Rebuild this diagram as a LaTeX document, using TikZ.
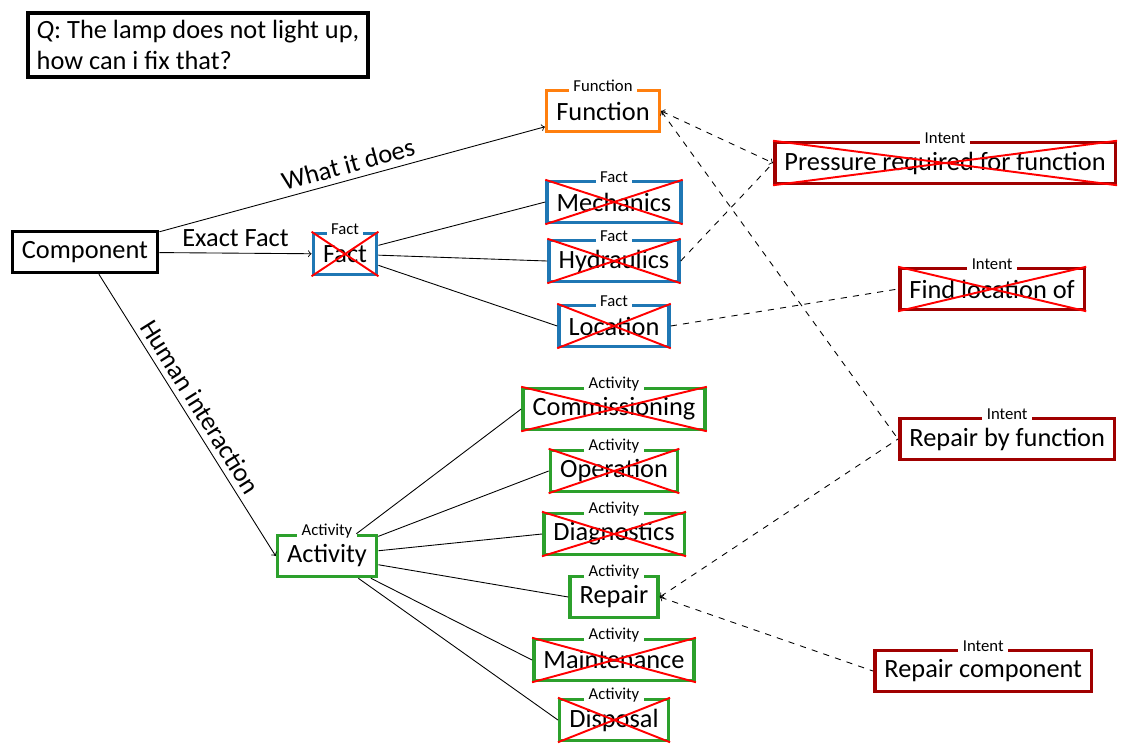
\documentclass[tikz,border=0pt]{standalone}
\usepackage{fontspec}
\setmainfont{Carlito}
\usepackage{xcolor}
\usepackage{tikz}
\usetikzlibrary{positioning, arrows.meta}

\definecolor{funcorange}{HTML}{FF7F0E}
\definecolor{factblue}{HTML}{1F77B4}
\definecolor{actgreen}{HTML}{2CA02C}
\definecolor{intentred}{HTML}{A00000}

\begin{document}
\begin{tikzpicture}[
    x=0.02cm, y=-0.02cm,
    font=\fontsize{15}{18}\selectfont,
    >=to,
    box/.style={rectangle, draw=black, line width=2pt, fill=white, minimum height=0.82cm, inner xsep=5.5pt, inner ysep=3pt},
    lbl/.style={anchor=center, fill=white, inner xsep=2.5pt, inner ysep=0pt, yshift=1.5pt, font=\fontsize{9.5}{10}\selectfont},
    kind/.style={label={[lbl]north:#1}},
    func_box/.style={box, draw=funcorange, kind=Function},
    fact_box/.style={box, draw=factblue, kind=Fact},
    act_box/.style={box, draw=actgreen, kind=Activity},
    intent_box/.style={box, draw=intentred, kind=Intent},
    cross/.style={draw=red, line width=1.1pt},
    link/.style={draw=black, line width=0.5pt},
    hint/.style={draw=black, line width=0.5pt, dash pattern=on 3.5pt off 3.5pt}
]
\useasboundingbox (0,0) rectangle (1121,744);

% Nodes
\node (question) [box, align=left, inner xsep=5pt, inner ysep=4pt] at (198,45) {\textit{Q}: The lamp does not light up,\\how can i fix that?};
\node (component) [box] at (85,252) {Component};
\node (fact) [fact_box] at (345,254) {Fact};

\node (function) [func_box] at (603,111) {Function};
\node (mechanics) [fact_box] at (614,202) {Mechanics};
\node (hydraulics) [fact_box] at (614,261) {Hydraulics};
\node (location) [fact_box] at (614,326) {Location};

\node (pressure) [intent_box, anchor=west] at (773,163) {Pressure required for function};
\node (findloc) [intent_box, anchor=west] at (898,289) {Find location of};
\node (repairfn) [intent_box, anchor=west] at (898,439) {Repair by function};
\node (repaircomp) [intent_box, anchor=west] at (873,671) {Repair component};

\node (activity) [act_box] at (327,556) {Activity};
\node (commissioning) [act_box] at (614,409) {Commissioning};
\node (operation) [act_box] at (614,471) {Operation};
\node (diagnostics) [act_box] at (614,534) {Diagnostics};
\node (repair) [act_box] at (614,597) {Repair};
\node (maintenance) [act_box] at (614,660) {Maintenance};
\node (disposal) [act_box] at (614,720) {Disposal};

% Paths
\draw [link, ->] (component) -- node[above, sloped] {What it does} (function);
\draw [link, ->] (component) -- node[above] {Exact Fact} (fact);
\draw [link, ->] (component) -- node[above, sloped] {Human interaction} (activity.west);

\draw [link] (fact) -- (mechanics.west);
\draw [link] (fact) -- (hydraulics.west);
\draw [link] (fact) -- (location.west);
\foreach \n in {commissioning, operation, diagnostics, repair, maintenance, disposal}
    \draw [link] (activity) -- (\n.west);

\draw [hint, <->] (function.east) -- (pressure.west);
\draw [hint, <-] (function.east) -- (repairfn.west);
\draw [hint] (hydraulics.east) -- (pressure.west);
\draw [hint] (location.east) -- (findloc.west);
\draw [hint, <-] (repair.east) -- (repairfn.west);
\draw [hint, <-] (repair.east) -- (repaircomp.west);

% Struck out
\foreach \n in {fact, mechanics, hydraulics, location, pressure, findloc, commissioning, operation, diagnostics, maintenance, disposal}
    \draw [cross] (\n.north west) -- (\n.south east) (\n.south west) -- (\n.north east);

\end{tikzpicture}
\end{document}
